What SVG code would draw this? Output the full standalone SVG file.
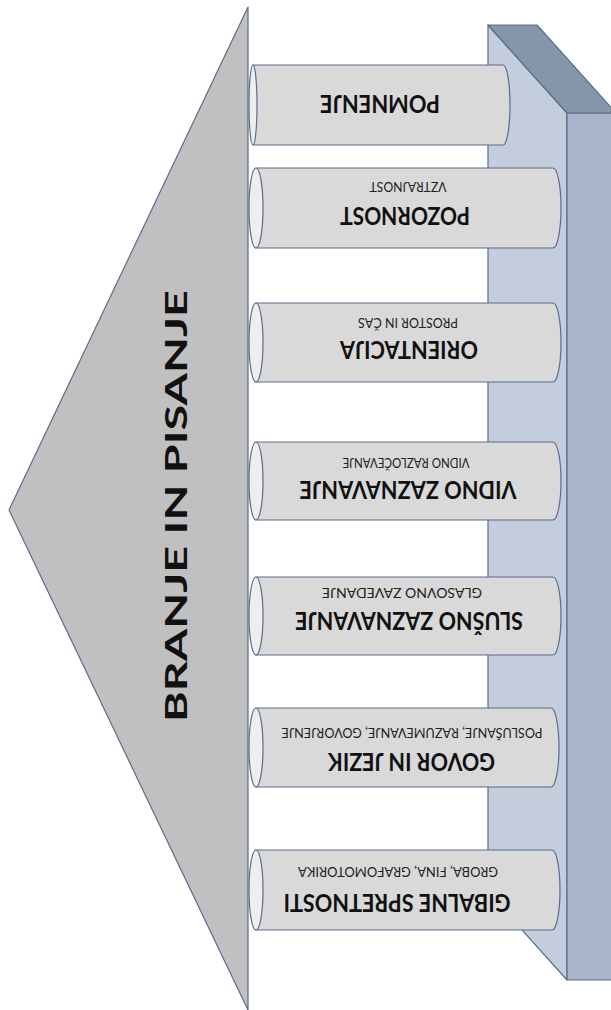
<svg xmlns="http://www.w3.org/2000/svg" width="611" height="1010" viewBox="0 0 611 1010">
<style>
.edge{stroke:#5a6d8a;stroke-width:1.2;stroke-linejoin:round}
.body{fill:#d9d9d9}
.cap{fill:#eeeeee}
.big{font-family:Lato,"Open Sans","Liberation Sans",sans-serif;font-weight:700;font-size:24px;fill:#111;text-anchor:middle}
.small{font-family:Lato,"Open Sans","Liberation Sans",sans-serif;font-weight:400;font-size:14px;fill:#222;text-anchor:middle}
.title{font-family:Lato,"Open Sans","Liberation Sans",sans-serif;font-weight:700;font-size:31px;fill:#111;text-anchor:middle}
</style>
<rect width="611" height="1010" fill="#ffffff"/>
<g id="slab">
  <polygon class="edge" points="488,25 567,113 567,980 488,892" fill="#c3cddc"/>
  <polygon class="edge" points="567,113 616,113 616,980 567,980" fill="#a9b6c9"/>
  <polygon class="edge" points="488,25 537,25 616,113 567,113" fill="#8696aa"/>
</g>
<g id="triangle">
  <polygon class="edge" points="248,7 248,1010 9,510" fill="#c0c0c0"/>
  <text class="title" x="176" y="517" textLength="432" lengthAdjust="spacingAndGlyphs" transform="rotate(-90 176 506)">BRANJE IN PISANJE</text>
</g>
<g id="cyl1">
  <path class="edge body" d="M253,65 L503,65 A7,40 0 0 1 503,145 L253,145 Z"/>
  <ellipse class="edge cap" cx="253" cy="105" rx="4" ry="40"/>
  <text class="big" x="380" y="112" textLength="120" lengthAdjust="spacingAndGlyphs" transform="rotate(180 380 103.5)">POMNENJE</text>
</g>
<g id="cyl2">
  <path class="edge body" d="M256,168 L553,168 A8,40 0 0 1 553,248 L256,248 Z"/>
  <ellipse class="edge cap" cx="256" cy="208" rx="7" ry="40"/>
  <text class="small" x="408" y="192" textLength="77" lengthAdjust="spacingAndGlyphs" transform="rotate(180 408 187)">VZTRAJNOST</text>
  <text class="big" x="405" y="223.5" textLength="130" lengthAdjust="spacingAndGlyphs" transform="rotate(180 405 215)">POZORNOST</text>
</g>
<g id="cyl3">
  <path class="edge body" d="M256,303 L553,303 A8,39.5 0 0 1 553,382 L256,382 Z"/>
  <ellipse class="edge cap" cx="256" cy="342.5" rx="7" ry="39.5"/>
  <text class="small" x="408" y="328" textLength="100" lengthAdjust="spacingAndGlyphs" transform="rotate(180 408 323)">PROSTOR IN ČAS</text>
  <text class="big" x="409" y="357.5" textLength="138" lengthAdjust="spacingAndGlyphs" transform="rotate(180 409 349)">ORIENTACIJA</text>
</g>
<g id="cyl4">
  <path class="edge body" d="M256,442 L553,442 A8,39 0 0 1 553,520 L256,520 Z"/>
  <ellipse class="edge cap" cx="256" cy="481" rx="7" ry="39"/>
  <text class="small" x="406" y="467" textLength="127" lengthAdjust="spacingAndGlyphs" transform="rotate(180 406 462.5)">VIDNO RAZLOČEVANJE</text>
  <text class="big" x="408" y="498" textLength="217" lengthAdjust="spacingAndGlyphs" transform="rotate(180 408 489.5)">VIDNO ZAZNAVANJE</text>
</g>
<g id="cyl5">
  <path class="edge body" d="M256,577 L553,577 A8,39 0 0 1 553,655 L256,655 Z"/>
  <ellipse class="edge cap" cx="256" cy="616" rx="7" ry="39"/>
  <text class="small" x="402" y="597.5" textLength="160" lengthAdjust="spacingAndGlyphs" transform="rotate(180 402 592.5)">GLASOVNO ZAVEDANJE</text>
  <text class="big" x="409" y="628.5" textLength="228" lengthAdjust="spacingAndGlyphs" transform="rotate(180 409 620)">SLUŠNO ZAZNAVANJE</text>
</g>
<g id="cyl6">
  <path class="edge body" d="M256,708 L551,708 A8,39.5 0 0 1 551,787 L256,787 Z"/>
  <ellipse class="edge cap" cx="256" cy="747.5" rx="7" ry="39.5"/>
  <text class="small" x="412" y="737.5" textLength="261" lengthAdjust="spacingAndGlyphs" transform="rotate(180 412 732.5)">POSLUŠANJE, RAZUMEVANJE, GOVORJENJE</text>
  <text class="big" x="411.5" y="770" textLength="167" lengthAdjust="spacingAndGlyphs" transform="rotate(180 411.5 761.5)">GOVOR IN JEZIK</text>
</g>
<g id="cyl7">
  <path class="edge body" d="M256,850 L552,850 A8,40 0 0 1 552,930 L256,930 Z"/>
  <ellipse class="edge cap" cx="256" cy="890" rx="7" ry="40"/>
  <text class="small" x="398" y="877" textLength="200" lengthAdjust="spacingAndGlyphs" transform="rotate(180 398 872)">GROBA, FINA, GRAFOMOTORIKA</text>
  <text class="big" x="397" y="910.5" textLength="227" lengthAdjust="spacingAndGlyphs" transform="rotate(180 397 902)">GIBALNE SPRETNOSTI</text>
</g>
</svg>
